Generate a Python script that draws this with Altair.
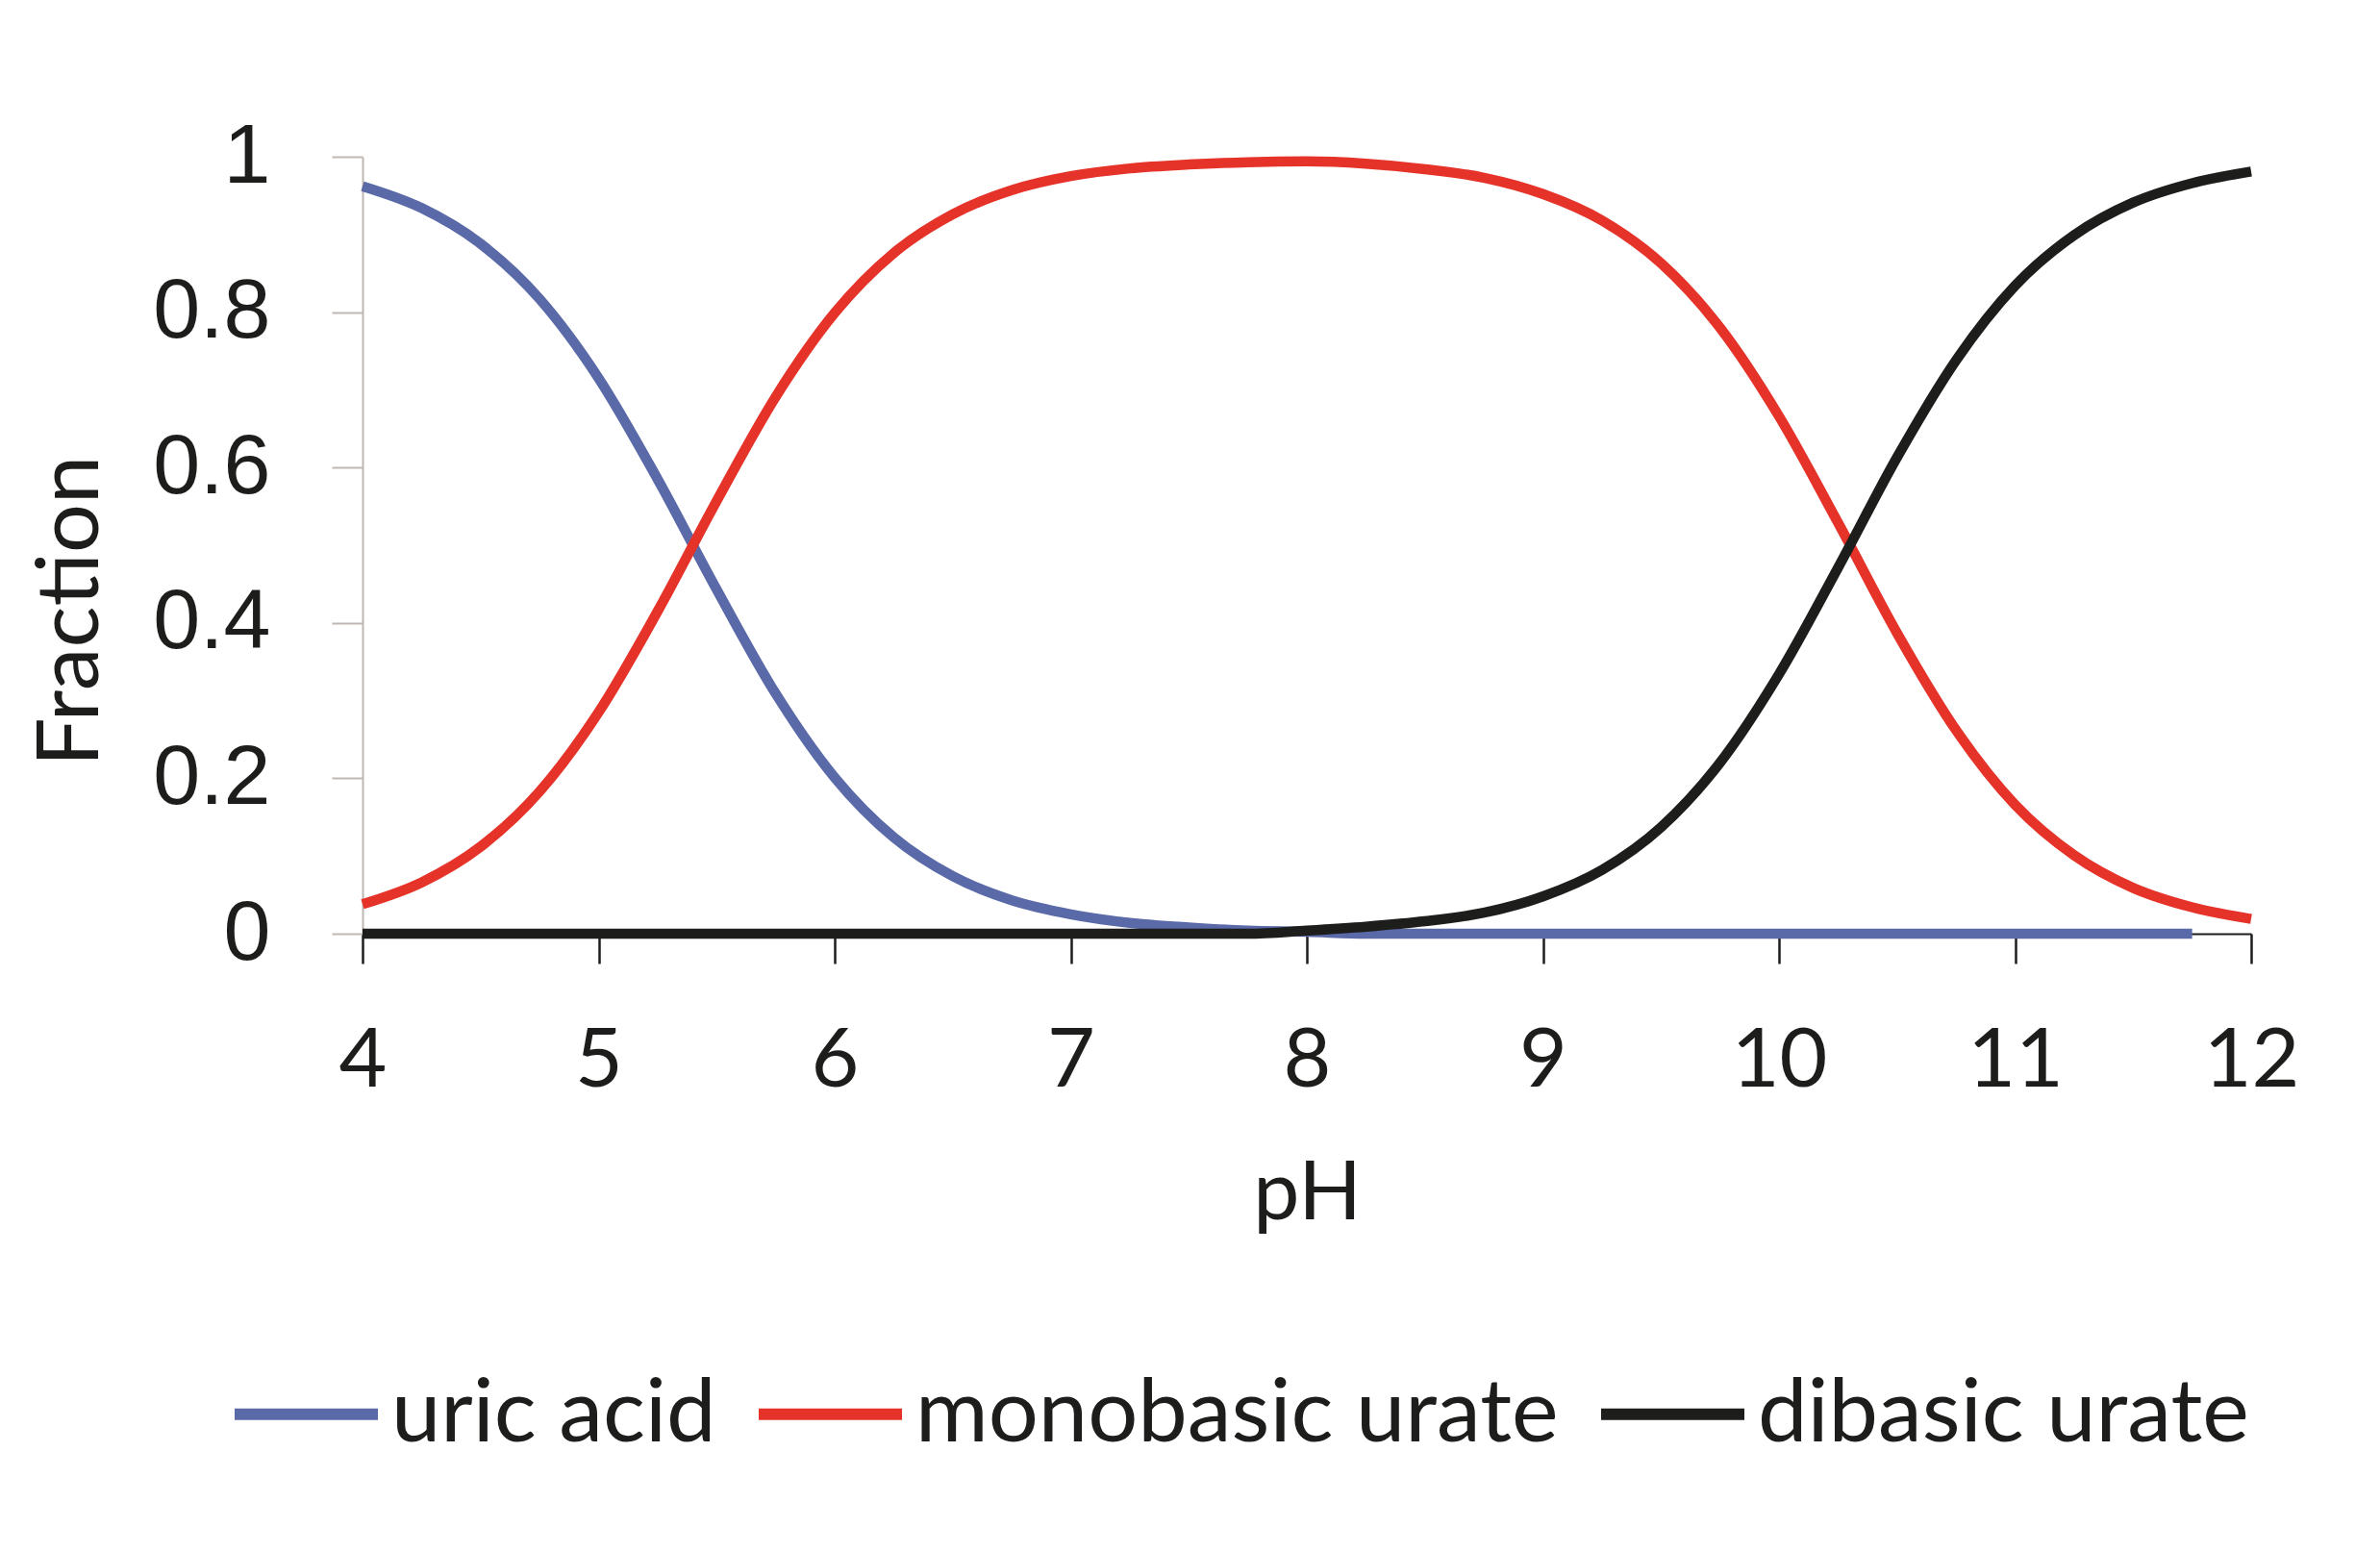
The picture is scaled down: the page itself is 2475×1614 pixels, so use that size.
import altair as alt
import pandas as pd

# pH grid
ph = [4.0, 4.25, 4.5, 4.75, 5.0, 5.25, 5.5, 5.75, 6.0, 6.25, 6.5, 6.75, 7.0, 7.25,
      7.5, 7.75, 8.0, 8.25, 8.5, 8.75, 9.0, 9.25, 9.5, 9.75, 10.0, 10.25, 10.5,
      10.75, 11.0, 11.25, 11.5, 11.75, 12.0]

uric_acid = [0.962, 0.934, 0.888, 0.817, 0.715, 0.585, 0.443, 0.309, 0.201, 0.124,
             0.074, 0.043, 0.025, 0.014, 0.008, 0.004, 0.0025, 0.0, 0.0, 0.0, 0.0,
             0.0, 0.0, 0.0, 0.0, 0.0, 0.0, 0.0, 0.0, 0.0, 0.0, 0.0]  # ends at pH 11.75

monobasic = [0.038, 0.066, 0.112, 0.183, 0.285, 0.415, 0.557, 0.691, 0.799, 0.876,
             0.926, 0.957, 0.975, 0.985, 0.990, 0.993, 0.994, 0.991, 0.984, 0.973,
             0.952, 0.918, 0.863, 0.780, 0.666, 0.529, 0.387, 0.262, 0.166, 0.101,
             0.059, 0.034, 0.019]

dibasic = [0.0, 0.0, 0.0, 0.0, 0.0, 0.0, 0.0, 0.0, 0.0, 0.0, 0.0, 0.0, 0.0, 0.0,
           0.0, 0.0, 0.004, 0.009, 0.016, 0.027, 0.048, 0.082, 0.137, 0.220, 0.334,
           0.471, 0.613, 0.738, 0.834, 0.899, 0.941, 0.966, 0.981]

series_names = ["uric acid", "monobasic urate", "dibasic urate"]
series_colors = ["#5a69a8", "#e5332a", "#1d1d1b"]
x_ticks = [4, 5, 6, 7, 8, 9, 10, 11, 12]
y_ticks = [0, 0.2, 0.4, 0.6, 0.8, 1]

rows = []
for name, vals in zip(series_names, [uric_acid, monobasic, dibasic]):
    for p, v in zip(ph, vals):
        rows.append({"pH": p, "Fraction": v, "species": name})
df = pd.DataFrame(rows)

FONT = "Lato"
YFONT = "Liberation Sans"

color = alt.Color(
    "species:N",
    scale=alt.Scale(domain=series_names, range=series_colors),
    legend=alt.Legend(
        title=None,
        orient="none",
        legendX=-139,
        legendY=1227,
        direction="horizontal",
        symbolType="stroke",
        symbolSize=22201,
        symbolStrokeWidth=12,
        symbolOpacity=1,
        labelFont=FONT,
        labelFontSize=92,
        labelColor="#1d1d1b",
        labelOffset=8,
        columnPadding=20,
        padding=0,
        labelLimit=1000,
    ),
)

base = alt.Chart(df).encode(
    x=alt.X(
        "pH:Q",
        scale=alt.Scale(domain=[4, 12], nice=False, zero=False),
        axis=alt.Axis(
            values=x_ticks,
            grid=False,
            domainColor="#1d1d1b",
            domainWidth=2,
            tickColor="#1d1d1b",
            tickWidth=2.5,
            tickSize=31,
            labelFont=FONT,
            labelFontSize=86,
            labelColor="#1d1d1b",
            labelBaseline="alphabetic",
            labelPadding=127,
            labelFlush=False,
            title="pH",
            titleFont=FONT,
            titleFontSize=86,
            titleFontWeight="normal",
            titleColor="#1d1d1b",
            titleBaseline="alphabetic",
            titleY=296,
        ),
    ),
    y=alt.Y(
        "Fraction:Q",
        scale=alt.Scale(domain=[0, 1], nice=False),
        axis=alt.Axis(
            values=y_ticks,
            format="~g",
            grid=False,
            domainColor="#bfb7b3",
            domainWidth=2,
            tickColor="#bfb7b3",
            tickWidth=2,
            tickSize=32,
            labelFont=YFONT,
            labelFontSize=88,
            labelColor="#1d1d1b",
            labelPadding=64,
            title="Fraction",
            titleFont=FONT,
            titleFontSize=90,
            titleFontWeight="normal",
            titleColor="#1d1d1b",
            titleBaseline="alphabetic",
            titleAlign="center",
            titleAngle=270,
            titleX=-276,
            titleY=472,
        ),
    ),
    color=color,
)

layers = [
    base.transform_filter(alt.datum.species == name).mark_line(
        strokeWidth=10.5, interpolate="monotone", clip=False
    )
    for name in series_names
]

chart = alt.layer(*layers).properties(
    width=1964,
    height=808,
    background="white",
    autosize=alt.AutoSizeParams(type="none"),
    padding={"left": 369, "top": 155, "right": 100, "bottom": 620},
).configure_view(stroke=None)

chart.save("out.html", embed_options={"renderer": "svg", "actions": False})
